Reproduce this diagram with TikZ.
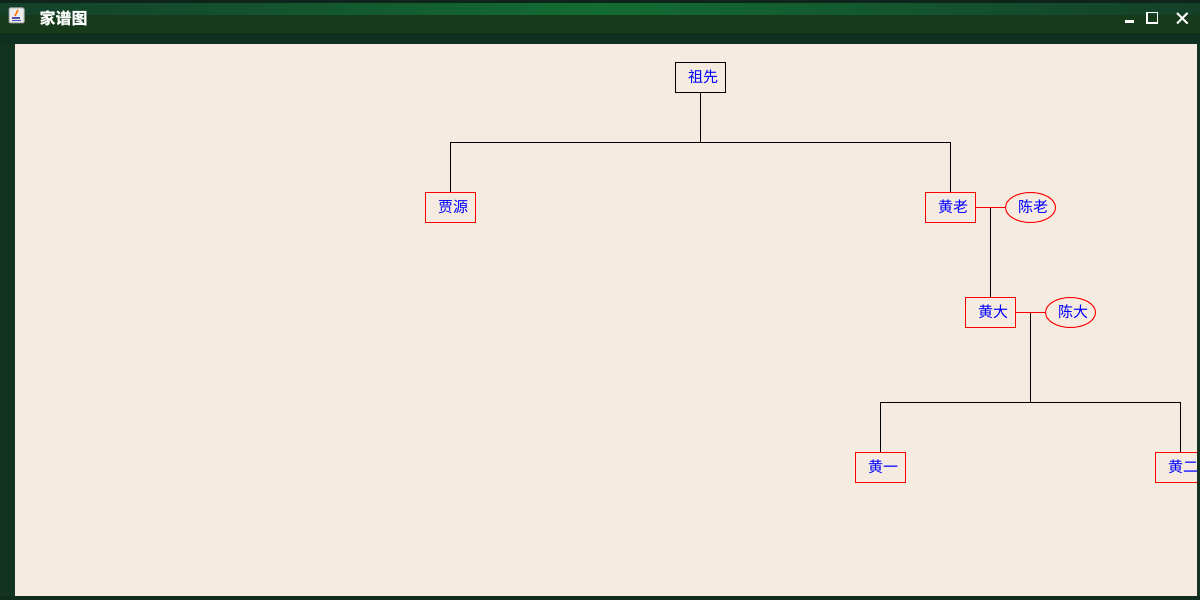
\documentclass[tikz,border=0pt]{standalone}
\usepackage{fontspec}
\setmainfont{Noto Sans CJK SC}
\usetikzlibrary{positioning,shapes.geometric}
\definecolor{paper}{HTML}{F5EBE1}
\definecolor{framegreen}{HTML}{113320}
\definecolor{edgegreen}{HTML}{0F2C1C}
\definecolor{bartop}{HTML}{0F241A}
\definecolor{barmid}{HTML}{163A1A}
\definecolor{barlow}{HTML}{0F3020}
\definecolor{bardark}{HTML}{14402A}
\definecolor{barlight}{HTML}{136C33}
\begin{document}
\begin{tikzpicture}[x=1pt,y=1pt,line width=1pt,node distance=50pt,
						person/.style={rectangle,draw=red,text=blue,font=\fontsize{15}{15}\selectfont,inner sep=0pt,outer sep=0pt,text height=13pt,text depth=3pt,minimum width=50pt,minimum height=30pt,execute at begin node={\kern5pt}},
						ancestor/.style={person,draw=black},
						spouse/.style={person,ellipse},
						tie/.style={draw=red},
						winbtn/.style={draw=white,line width=1.5pt}]
		% window
		\useasboundingbox (0,0) rectangle (1200,600);
		\fill[framegreen] (0,0) rectangle (1200,600);
		\fill[edgegreen] (0,0) rectangle (1200,4);
		\fill[barlow] (0,556) rectangle (1200,567);
		\fill[barmid] (0,567) rectangle (1200,585);
		\shade[left color=bardark,right color=barlight] (0,585) rectangle (600,597);
		\shade[left color=barlight,right color=bardark] (600,585) rectangle (1200,597);
		\fill[bartop] (0,597) rectangle (1200,600);
		\fill[paper] (15,4) rectangle (1197,556);
		\node[text=white,font=\fontsize{16}{16}\selectfont\bfseries,anchor=west,inner sep=0pt] (title) at (39,582) {家谱图};
		% java icon
		\node[draw=gray!70,fill=gray!15,rounded corners=1pt,minimum size=15pt,inner sep=0pt] (icon) at (16.5,584.5) {};
		\draw[orange!85!red,line width=1.5pt] (15,584) -- (18,590);
		\draw[gray!60!blue,line width=1.5pt] (12,582) -- (20,582);
		\draw[gray!60!blue,line width=1pt] (12,579.5) -- (21,579.5);
		% buttons
		\draw[winbtn,line width=3pt] (1125,578) -- (1134,578);
		\draw[winbtn] (1147,577) rectangle (1157.5,587.5);
		\draw[winbtn,line width=2pt] (1177,576.5) -- (1187.5,587);
		\draw[winbtn,line width=2pt] (1177,587) -- (1187.5,576.5);

		\begin{scope}
		\clip (15,4) rectangle (1197,556);
		\node[ancestor] at (700.5,522.5)						(root)		{祖先};
		\coordinate[below=of root]								(bus1);
		\node[person,below=of bus1,xshift=-250pt]				(jia)		{贾源};
		\node[person,below=of bus1,xshift=250pt]				(laohuang)	{黄老};
		\node[spouse,right=30pt of laohuang]					(laochen)	{陈老};
		\coordinate[right=15pt of laohuang]						(mid1);
		\node[person,below=90pt of mid1]						(dahuang)	{黄大};
		\node[spouse,right=30pt of dahuang]						(dachen)	{陈大};
		\coordinate[right=15pt of dahuang]						(mid2);
		\coordinate[below=90pt of mid2]							(bus2);
		\node[person,below=of bus2,xshift=-150pt]				(yi)		{黄一};
		\node[person,below=of bus2,xshift=150pt]				(er)		{黄二};

		\draw (root) -- (bus1);
		\draw (bus1) -| (jia);
		\draw (bus1) -| (laohuang);
		\draw (mid1) -- (dahuang);
		\draw (mid2) -- (bus2);
		\draw (bus2) -| (yi);
		\draw (bus2) -| (er);
		\draw[tie] (laohuang) -- (laochen);
		\draw[tie] (dahuang) -- (dachen);
		\end{scope}
	\end{tikzpicture}
\end{document}
